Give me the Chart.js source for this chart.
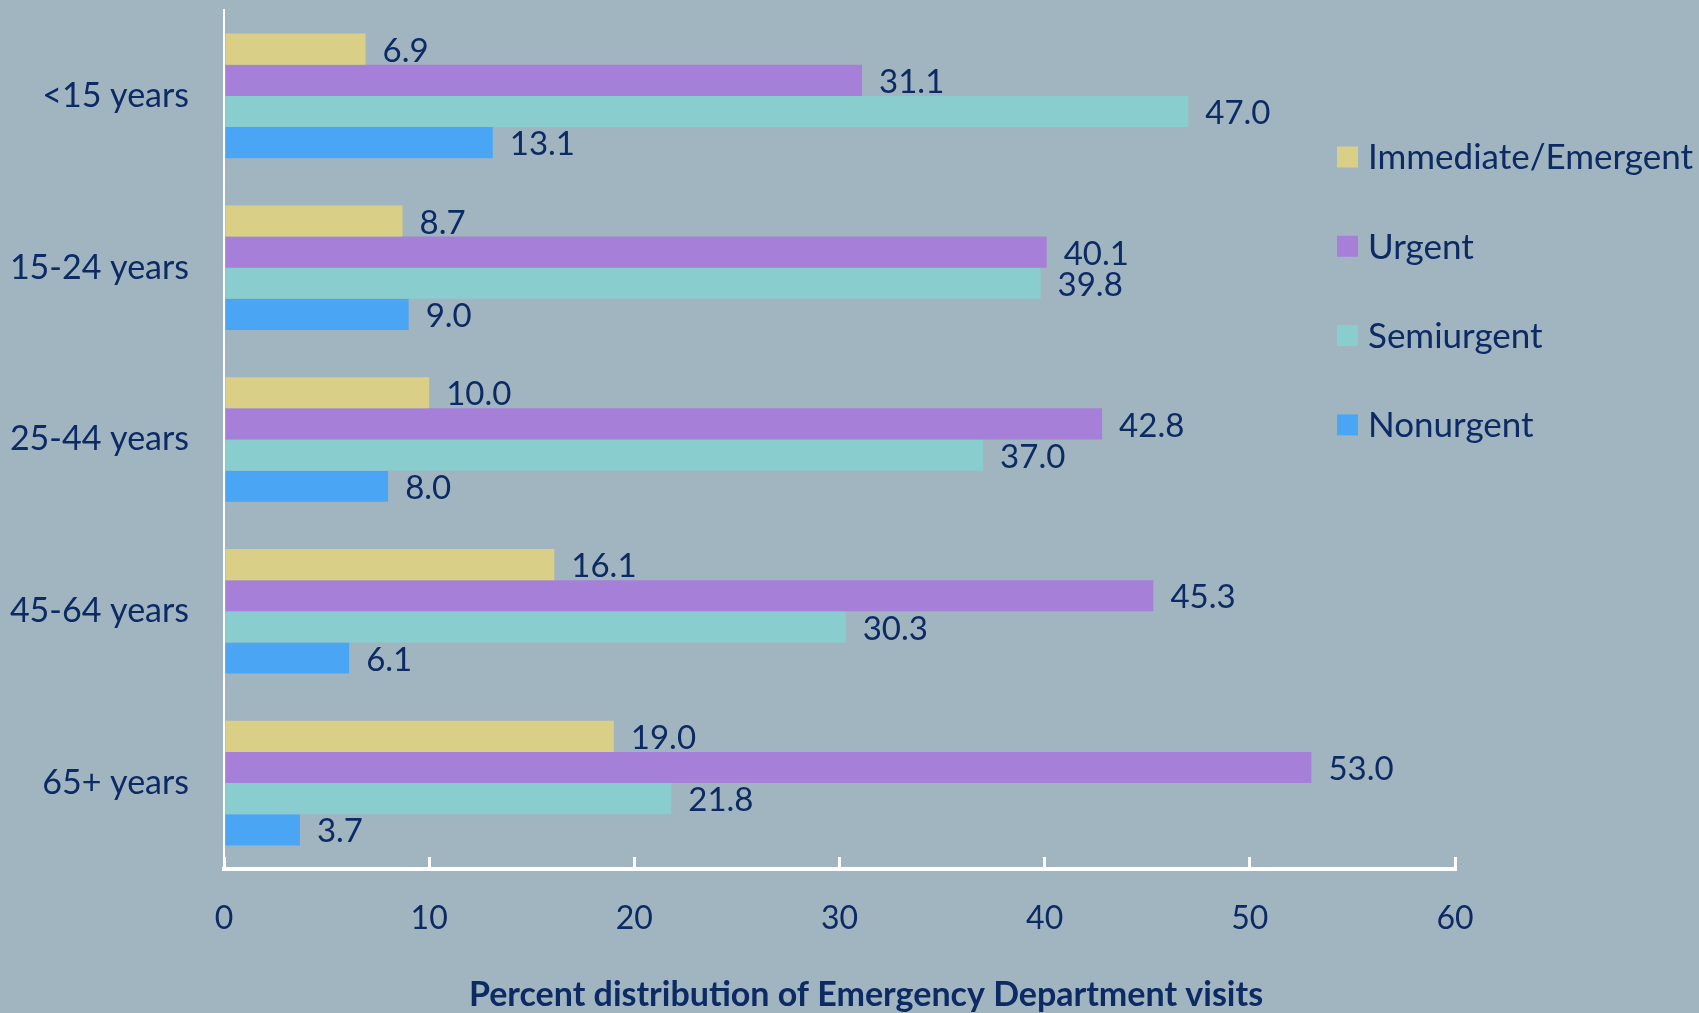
<!DOCTYPE html>
<html>
<head>
<meta charset="utf-8">
<title>Emergency Department visits by triage level and age</title>
<script src="https://cdn.jsdelivr.net/npm/chart.js@4/dist/chart.umd.min.js"></script>
<style>
  html, body { margin: 0; padding: 0; background: #A1B5C0; }
  canvas { display: block; }
</style>
</head>
<body>
<canvas id="ed-chart" width="1699" height="1013"></canvas>
<script>
// Chart data
const ageGroups = ['<15 years', '15-24 years', '25-44 years', '45-64 years', '65+ years'];
const seriesNames = ['Immediate/Emergent', 'Urgent', 'Semiurgent', 'Nonurgent'];
const immediateValues = [6.9, 8.7, 10.0, 16.1, 19.0];
const urgentValues = [31.1, 40.1, 42.8, 45.3, 53.0];
const semiurgentValues = [47.0, 39.8, 37.0, 30.3, 21.8];
const nonurgentValues = [13.1, 9.0, 8.0, 6.1, 3.7];
const xTicks = [0, 10, 20, 30, 40, 50, 60];
const axisTitle = 'Percent distribution of Emergency Department visits';

// Colours and fonts
const seriesColors = ['#DACF87', '#A680D8', '#8ACDCE', '#4AA6F4'];
const textColor = '#0C2A64';
const pageBackground = '#A1B5C0';
const fontFamily = 'Lato, "Open Sans", sans-serif';

/**
 * Paint the canvas background
 */
const backgroundPlugin = {
  id: 'pageBackground',
  beforeDraw(chart) {
    const ctx = chart.ctx;
    ctx.save();
    ctx.fillStyle = pageBackground;
    ctx.fillRect(0, 0, chart.width, chart.height);
    ctx.restore();
  }
};

/**
 * Value labels at the end of each bar
 */
const valueLabelPlugin = {
  id: 'valueLabels',
  afterDatasetsDraw(chart) {
    const ctx = chart.ctx;
    ctx.save();
    ctx.font = `33px ${fontFamily}`;
    ctx.fillStyle = textColor;
    ctx.textAlign = 'left';
    ctx.textBaseline = 'middle';
    chart.data.datasets.forEach((dataset, i) => {
      const meta = chart.getDatasetMeta(i);
      meta.data.forEach((bar, j) => {
        ctx.fillText(dataset.data[j].toFixed(1), bar.x + 17, bar.y + 2);
      });
    });
    ctx.restore();
  }
};

/**
 * Legend inside the plot on the right, plus the axis title
 */
const legendPlugin = {
  id: 'sideLegend',
  afterDraw(chart) {
    const ctx = chart.ctx;
    ctx.save();
    ctx.font = `35px ${fontFamily}`;
    ctx.textAlign = 'left';
    ctx.textBaseline = 'middle';
    chart.data.datasets.forEach((dataset, i) => {
      const y = 157 + i * 89.3;
      ctx.fillStyle = dataset.backgroundColor;
      ctx.fillRect(1337, y - 10.5, 21, 21);
      ctx.fillStyle = textColor;
      ctx.fillText(dataset.label, 1368, y + 1);
    });

    // x axis title
    ctx.font = `bold 34px ${fontFamily}`;
    ctx.textAlign = 'center';
    ctx.textBaseline = 'alphabetic';
    ctx.fillText(axisTitle, 866, 1006);
    ctx.restore();
  }
};

const seriesValues = [immediateValues, urgentValues, semiurgentValues, nonurgentValues];

const edChart = new Chart(document.getElementById('ed-chart'), {
  type: 'bar',
  data: {
    labels: ageGroups,
    datasets: seriesNames.map((name, i) => ({
      label: name,
      data: seriesValues[i],
      backgroundColor: seriesColors[i],
      borderWidth: 0,
      categoryPercentage: 0.725,
      barPercentage: 1
    }))
  },
  options: {
    indexAxis: 'y',
    responsive: false,
    animation: false,
    layout: {
      padding: { top: 10, right: 244, bottom: 0, left: 0 }
    },
    plugins: {
      legend: { display: false },
      tooltip: { enabled: false }
    },
    scales: {
      x: {
        min: 0,
        max: 60,
        afterBuildTicks(scale) {
          scale.ticks = xTicks.map(v => ({ value: v }));
        },
        afterFit(scale) {
          scale.height = 144;
        },
        ticks: {
          color: textColor,
          font: { family: fontFamily, size: 32 },
          padding: 42,
          maxRotation: 0
        },
        grid: {
          drawOnChartArea: false,
          color: '#FFFFFF',
          lineWidth: 3,
          tickLength: -12
        },
        border: { display: true, color: '#FFFFFF', width: 4 }
      },
      y: {
        afterFit(scale) {
          // fixed axis width, no extra room above/below for label overhang
          scale.width = 224;
          scale.paddingTop = 0;
          scale.paddingBottom = 0;
        },
        ticks: {
          color: textColor,
          font: { family: fontFamily, size: 34 },
          padding: 35
        },
        grid: { display: false, drawTicks: false },
        border: { display: true, color: '#FFFFFF', width: 2 }
      }
    }
  },
  plugins: [backgroundPlugin, valueLabelPlugin, legendPlugin]
});
</script>
</body>
</html>
